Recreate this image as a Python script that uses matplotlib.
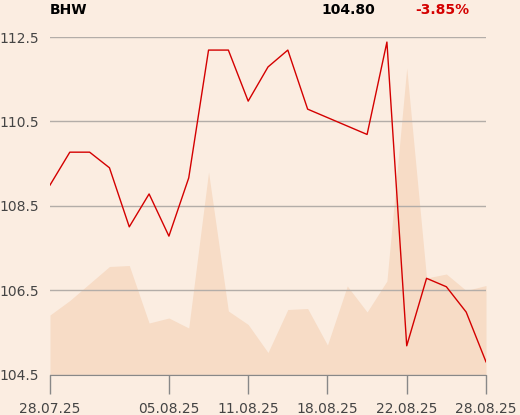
import numpy as np
import matplotlib
matplotlib.use('Agg')
import matplotlib.pyplot as plt

# data
dates = ['28.07.25', '29.07.25', '30.07.25', '31.07.25', '01.08.25',
         '04.08.25', '05.08.25', '06.08.25', '07.08.25', '08.08.25',
         '11.08.25', '12.08.25', '13.08.25', '14.08.25', '18.08.25',
         '19.08.25', '20.08.25', '21.08.25', '22.08.25', '25.08.25',
         '26.08.25', '27.08.25', '28.08.25']
price = [108.99, 109.77, 109.77, 109.40, 108.00, 108.78, 107.78, 109.16,
         112.19, 112.19, 110.98, 111.79, 112.19, 110.79, 110.59, 110.39,
         110.19, 112.38, 105.18, 106.78, 106.58, 105.98, 104.80]
volume = [5950, 7400, 9100, 10800, 10900, 5150, 5650, 4650, 20250, 6350,
          5000, 2200, 6500, 6600, 2950, 8850, 6250, 9350, 30650, 9650,
          10050, 8400, 8900]
tick_labels = ['28.07.25', '05.08.25', '11.08.25', '18.08.25', '22.08.25', '28.08.25']
yticks = [104.5, 106.5, 108.5, 110.5, 112.5]

bg = '#fbede1'
x = np.arange(len(dates))

fig = plt.figure(figsize=(5.2, 4.15), dpi=100, facecolor=bg)
ax = fig.add_axes([50/520, 1-374.5/415, 436/520, 337.5/415])
ax.set_facecolor(bg)

# volume as background area on a twin axis
axv = ax.twinx()
axv.fill_between(x, 0, volume, color='#f7dcc6', lw=0, zorder=1)
axv.set_ylim(0, 33750)
axv.axis('off')
ax.set_zorder(axv.get_zorder() + 1)
ax.patch.set_visible(False)
fig.patches.append(plt.Rectangle((50/520, 1-374.5/415), 436/520, 337.5/415,
                                 transform=fig.transFigure, color=bg, zorder=-5))

ax.plot(x, price, color='#d40000', lw=1.0, zorder=3)

ax.set_xlim(0, len(dates)-1)
ax.set_ylim(104.5, 112.5)
ax.set_yticks(yticks)
ax.set_yticklabels([f'{v:.1f}' for v in yticks])
ax.yaxis.grid(True, color='#b3ada8', lw=1.0)
ax.tick_params(axis='y', length=0, pad=8, labelsize=10, labelcolor='#444444')

pos = [dates.index(d) for d in tick_labels]
ax.set_xticks(pos)
ax.set_xticklabels(tick_labels)
ax.tick_params(axis='x', length=14, width=1, color='#888888', pad=6,
               labelsize=10, labelcolor='#444444')

for s in ['top', 'left', 'right']:
    ax.spines[s].set_visible(False)
ax.spines['bottom'].set_color('#888888')

fig.text(50/520, 1-10/415, 'BHW', fontsize=10, fontweight='bold', va='center', ha='left')
fig.text(375/520, 1-10/415, '104.80', fontsize=10, fontweight='bold', va='center', ha='right')
fig.text(469/520, 1-10/415, '-3.85%', fontsize=10, fontweight='bold', va='center',
         ha='right', color='#d40000')

fig.savefig('out.png', dpi=100, facecolor=bg)
